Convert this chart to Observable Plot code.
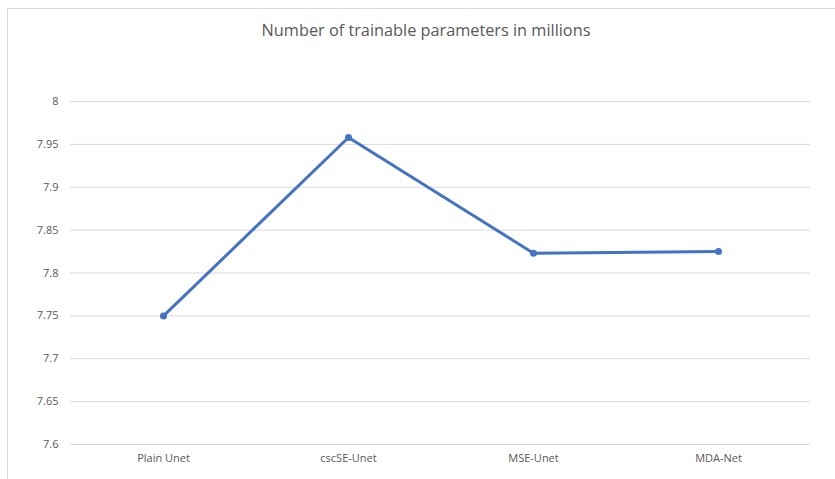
<!DOCTYPE html>
<html>
<head>
<meta charset="utf-8">
<script src="https://cdn.jsdelivr.net/npm/d3@7"></script>
<script src="https://cdn.jsdelivr.net/npm/@observablehq/plot@0.6"></script>
<style>
  body { margin: 0; background: #fff; }
  #wrap { position: relative; width: 835px; height: 479px; overflow: hidden; }
  #frame { position: absolute; left: 7px; top: 8px; width: 900px; height: 600px; border: 1px solid #d9d9d9; box-sizing: border-box; }
  #title { position: absolute; left: 0; width: 852px; top: 19px; text-align: center; font-family: "Open Sans", sans-serif; font-size: 16.3px; color: #595959; }
  #chart { position: absolute; left: 0; top: 0; }
</style>
</head>
<body>
<div id="wrap">
  <div id="frame"></div>
  <div id="title">Number of trainable parameters in millions</div>
  <div id="chart"></div>
</div>
<script>
const categories = ["Plain Unet", "cscSE-Unet", "MSE-Unet", "MDA-Net"];
const values = [7.75, 7.958, 7.823, 7.825];
const yTicks = [7.6, 7.65, 7.7, 7.75, 7.8, 7.85, 7.9, 7.95, 8];

const data = categories.map((c, i) => ({category: c, value: values[i]}));

const chart = Plot.plot({
  width: 835,
  height: 479,
  marginLeft: 70,
  marginRight: 25,
  marginTop: 101,
  marginBottom: 35,
  style: { fontFamily: "'Open Sans', sans-serif", fontSize: "11px", color: "#595959", background: "transparent" },
  x: { type: "point", domain: categories, padding: 0.5, label: null, tickSize: 0, tickPadding: 10 },
  y: { domain: [7.6, 8], ticks: yTicks, tickFormat: d => String(+d.toFixed(2)), label: null, tickSize: 0, tickPadding: 12 },
  marks: [
    Plot.gridY(yTicks, { stroke: "#d9d9d9", strokeOpacity: 1, strokeWidth: 1 }),
    Plot.line(data, { x: "category", y: "value", stroke: "#4472C4", strokeWidth: 3, strokeLinejoin: "round", strokeLinecap: "round" }),
    Plot.dot(data, { x: "category", y: "value", fill: "#4472C4", r: 3.5 })
  ]
});
document.getElementById("chart").appendChild(chart);
</script>
</body>
</html>
